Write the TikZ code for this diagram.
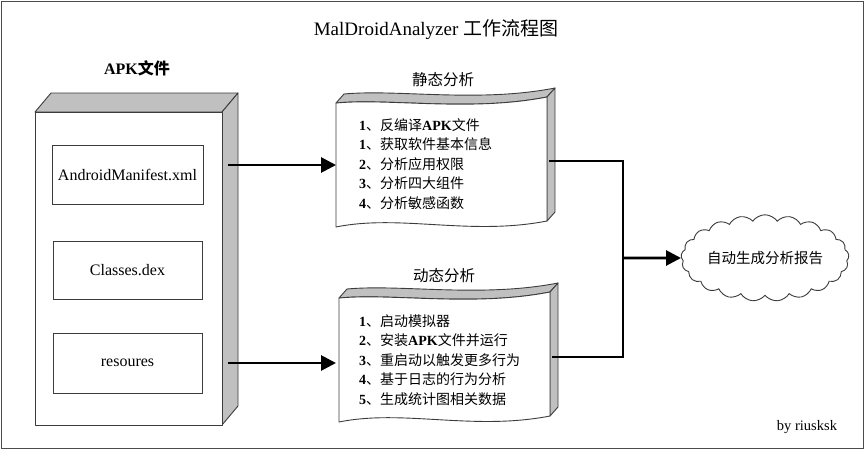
\documentclass[tikz,border=0pt]{standalone}
\usepackage{fontspec}
\setmainfont{Liberation Serif}
\newfontfamily\cjk{Noto Sans CJK SC}
\newcommand{\zh}[1]{{\cjk #1}}
\usetikzlibrary{shapes.symbols,arrows.meta}
\definecolor{facegray}{RGB}{192,192,192}
\definecolor{edgegray}{RGB}{60,60,60}
\tikzset{
  face/.style={draw=edgegray,line width=0.9pt,line join=round},
  sideface/.style={face,fill=facegray},
  frontface/.style={face,fill=white},
  filebox/.style={draw=edgegray,line width=0.9pt,fill=white,inner sep=0pt,font=\fontsize{16}{18}\selectfont},
  conn/.style={line width=2.8pt},
  arr/.style={conn,-{Triangle[length=15pt,width=15pt]}},
  steps/.style={anchor=west,align=left,inner sep=0pt,font=\fontsize{14}{19.5}\selectfont},
  boxtitle/.style={font=\fontsize{15.5}{18}\selectfont},
}
\newcommand{\docshape}[1]{%
  \begin{scope}[shift={#1}]
    % top face
    \path[sideface] (336,103) .. controls (390,98) and (470,112) .. (547,97)
      -- (555,88) .. controls (478,103) and (398,89) .. (344,94) -- cycle;
    % side face
    \path[sideface] (547,97) -- (555,88) -- (555,212) -- (547,221) -- cycle;
    % front face
    \path[frontface] (336,103) .. controls (390,98) and (470,112) .. (547,97)
      -- (547,221) .. controls (470,236) and (400,214) .. (336,227) -- cycle;
  \end{scope}}
\begin{document}
\begin{tikzpicture}[x=1pt,y=-1pt]
\useasboundingbox (0,0) rectangle (865,450);
\draw[line width=1.5pt,draw=black!70] (1.5,1.5) rectangle (863.5,448.5);

% title
\node (title) at (436,30) {\fontsize{19}{22}\selectfont MalDroidAnalyzer \zh{工作流程图}};

% APK box
\node (apktitle) at (137,68) {\fontsize{16}{18}\selectfont\bfseries APK{\cjk\bfseries 文件}};
\path[sideface] (35,112) -- (51,93) -- (238,93) -- (222,112) -- cycle;
\path[sideface] (222,112) -- (238,93) -- (238,406) -- (222,425) -- cycle;
\path[frontface] (35,112) rectangle (222,425);
\node[filebox,minimum width=151pt,minimum height=59pt] (manifest) at (127.5,174.5) {AndroidManifest.xml};
\node[filebox,minimum width=149pt,minimum height=58pt] (classes) at (127.5,270) {Classes.dex};
\node[filebox,minimum width=149pt,minimum height=60pt] (res) at (127.5,363) {resoures};
\coordinate (apkA) at (228,165);
\coordinate (apkB) at (228,363);

% static analysis
\node[boxtitle] (stitle) at (443,80) {\zh{静态分析}};
\docshape{(0,0)}
\coordinate (sIn) at (336,165);
\coordinate (sOut) at (549,161);
\node[steps] (slist) at (359,164) {%
  \textbf{1}\zh{、反编译}\textbf{APK}\zh{文件}\\
  \textbf{1}\zh{、获取软件基本信息}\\
  \textbf{2}\zh{、分析应用权限}\\
  \textbf{3}\zh{、分析四大组件}\\
  \textbf{4}\zh{、分析敏感函数}};

% dynamic analysis
\node[boxtitle] (dtitle) at (444,276) {\zh{动态分析}};
\docshape{(3,195)}
\coordinate (dIn) at (336,363);
\coordinate (dOut) at (552,357);
\node[steps] (dlist) at (359,360) {%
  \textbf{1}\zh{、启动模拟器}\\
  \textbf{2}\zh{、安装}\textbf{APK}\zh{文件并运行}\\
  \textbf{3}\zh{、重启动以触发更多行为}\\
  \textbf{4}\zh{、基于日志的行为分析}\\
  \textbf{5}\zh{、生成统计图相关数据}};

% report cloud
\node[cloud,draw=edgegray,line width=0.9pt,fill=white,cloud puffs=21,cloud puff arc=110,
  aspect=2.2,minimum width=165pt,minimum height=77pt,inner sep=0pt,
  font=\fontsize{14.5}{16}\selectfont] (report) at (765,258) {\zh{自动生成分析报告}};

% connectors
\draw[arr] (apkA) -- (sIn);
\draw[arr] (apkB) -- (dIn);
\coordinate (j) at (623,258);
\draw[conn] (sOut) -| (j) |- (dOut);
\draw[arr] (j) -- (report.west);

\node (sig) at (807,427) {\fontsize{14.5}{16}\selectfont by riusksk};
\end{tikzpicture}
\end{document}
